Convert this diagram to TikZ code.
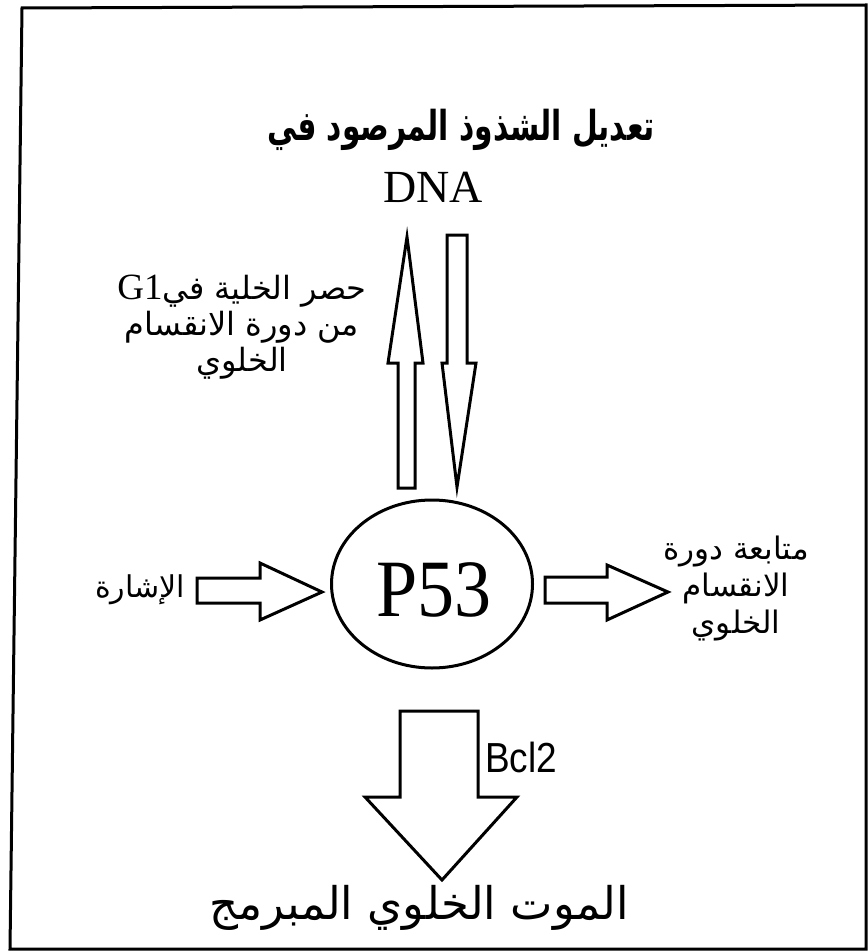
\documentclass[tikz,border=0pt]{standalone}
\usepackage{fontspec}
\setmainfont{Liberation Serif}
\newfontfamily\arsans[Script=Arabic]{DejaVu Sans}
\newfontfamily\lsans{Liberation Sans}
\TeXXeTstate=1
\begin{document}
\begin{tikzpicture}[x=1pt,y=-1pt,
  blockarrow/.style={draw=black,line width=3pt,line join=miter,fill=white},
  lbl/.style={inner sep=0pt,align=center,text=black}]
\useasboundingbox (0,0) rectangle (867,952);
% frame
\draw[line width=3pt] (22,8) -- (866,5) -- (866,949) -- (10,949) -- cycle;
% texts
\node[lbl,xscale=0.9,yscale=1.25,font={\arsans\bfseries\fontsize{33}{40}\selectfont}] (title) at (461,130) {\beginR تعديل الشذوذ المرصود في\endR};
\node[lbl,font={\fontsize{46}{52}\selectfont}] (dna) at (433,187) {DNA};
\node[lbl,font={\arsans\fontsize{32}{36}\selectfont}] (arrest) at (242,327)
  {\beginR حصر الخلية في\beginL{\rmfamily\fontsize{37}{36}\selectfont G1}\endL\endR\\ \beginR من دورة الانقسام\endR\\ \beginR الخلوي\endR};
\draw[line width=3pt] (432,584) ellipse [x radius=100.5, y radius=84];
\node[lbl,yscale=1.1,font={\fontsize{74}{80}\selectfont}] (p53) at (434,590) {P53};
\node[lbl,font={\arsans\fontsize{30}{34}\selectfont}] (signal) at (140,590) {\beginR الإشارة\endR};
\node[lbl,font={\arsans\fontsize{31}{37}\selectfont}] (cont) at (736,589)
  {\beginR متابعة دورة\endR\\ \beginR الانقسام\endR\\ \beginR الخلوي\endR};
\node[lbl,xscale=0.88,font={\lsans\fontsize{42}{46}\selectfont}] (bcl) at (521,757) {Bcl2};
\node[lbl,font={\arsans\fontsize{45}{50}\selectfont}] (death) at (419,908) {\beginR الموت الخلوي المبرمج\endR};
% block arrows
\draw[blockarrow] (398,488) -- (398,363) -- (388,363) -- (407,237) -- (423,363) -- (415,363) -- (415,488) -- cycle;
\draw[blockarrow] (447,235) -- (467,235) -- (467,363) -- (476,363) -- (457,487) -- (442,363) -- (447,363) -- cycle;
\draw[blockarrow] (197,578) -- (260,578) -- (260,563) -- (322,592) -- (260,620) -- (260,603) -- (197,603) -- cycle;
\draw[blockarrow] (545,577) -- (607,577) -- (607,565) -- (668,592) -- (607,620) -- (607,603) -- (545,603) -- cycle;
\draw[blockarrow] (400,711) -- (478,711) -- (478,797) -- (517,797) -- (442,880) -- (365,797) -- (400,797) -- cycle;
\end{tikzpicture}
\end{document}
